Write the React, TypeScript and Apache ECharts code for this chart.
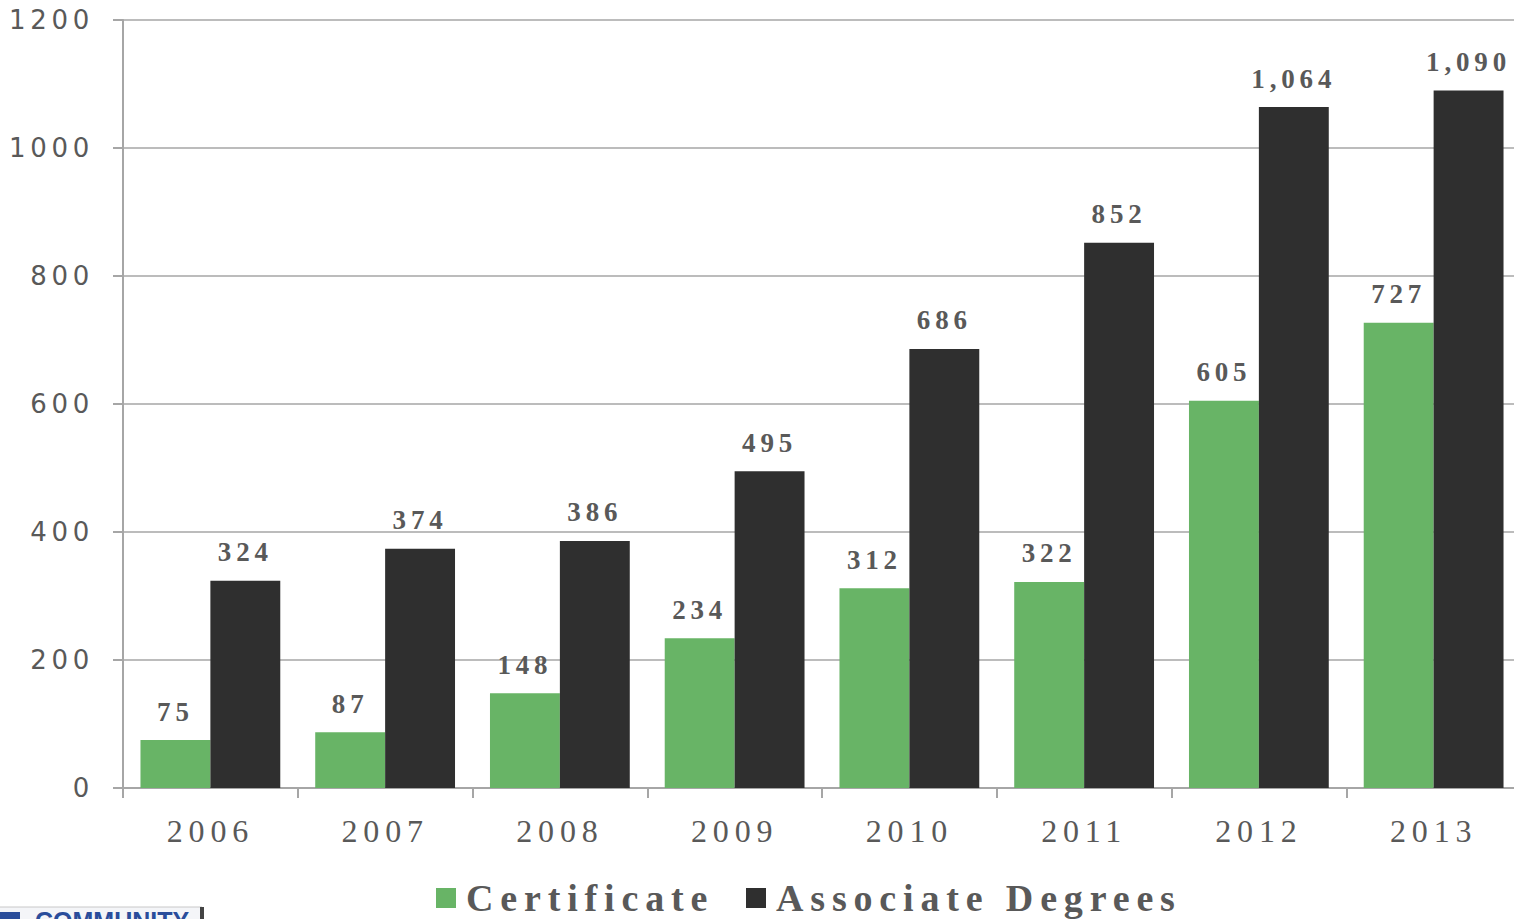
import React, { useEffect, useRef } from "react";
import * as echarts from "echarts";

const years = ["2006", "2007", "2008", "2009", "2010", "2011", "2012", "2013"];
const certificate = [75, 87, 148, 234, 312, 322, 605, 727];
const associate = [324, 374, 386, 495, 686, 852, 1064, 1090];
const yTicks = { min: 0, max: 1200, interval: 200 };

const fmt = (v: number) => v.toLocaleString("en-US");

export default function App() {
  const ref = useRef<HTMLDivElement>(null);
  useEffect(() => {
    document.body.style.margin = "0";
    const chart = echarts.init(ref.current!, undefined, { renderer: "svg" });
    const labelStyle = {
      show: true,
      position: "top" as const,
      distance: 15,
      color: "#595959",
      fontFamily: "Liberation Serif",
      fontWeight: "bold" as const,
      fontSize: 27,
      formatter: (p: any) => fmt(p.value),
    };
    chart.setOption({
      animation: false,
      backgroundColor: "#ffffff",
      grid: { left: 123, right: 0, top: 20, bottom: 131, containLabel: false },
      xAxis: {
        type: "category",
        data: years,
        axisLine: { lineStyle: { color: "#A6A6A6", width: 2 } },
        axisTick: { show: true, length: 10, lineStyle: { color: "#A6A6A6", width: 2 } },
        axisLabel: {
          color: "#595959",
          fontFamily: "Liberation Serif",
          fontSize: 32,
          margin: 27,
        },
      },
      yAxis: {
        type: "value",
        min: yTicks.min,
        max: yTicks.max,
        interval: yTicks.interval,
        axisLine: { show: true, lineStyle: { color: "#A6A6A6", width: 2 } },
        axisTick: { show: true, length: 10, lineStyle: { color: "#A6A6A6", width: 2 } },
        splitLine: { show: true, lineStyle: { color: "#A6A6A6", width: 1.5 } },
        axisLabel: {
          color: "#595959",
          fontFamily: "DejaVu Sans",
          fontSize: 26,
          margin: 29,
          formatter: (v: number) => String(v),
        },
      },
      legend: {
        left: 431,
        top: 874,
        itemWidth: 20,
        itemHeight: 20,
        itemGap: 107,
        icon: "rect",
        textStyle: {
          color: "#595959",
          fontFamily: "Liberation Serif",
          fontWeight: "bold",
          fontSize: 38,
          padding: [0, 0, 0, 5],
        },
        data: ["Certificate", "Associate Degrees"],
      },
      series: [
        {
          name: "Certificate",
          type: "bar",
          data: certificate,
          barGap: "0%",
          barCategoryGap: "20%",
          itemStyle: { color: "#68B466" },
          label: labelStyle,
        },
        {
          name: "Associate Degrees",
          type: "bar",
          data: associate,
          barGap: "0%",
          barCategoryGap: "20%",
          itemStyle: { color: "#2F2F2F" },
          label: labelStyle,
        },
      ],
      graphic: [
        {
          type: "rect",
          shape: { x: -2, y: 907, width: 204, height: 30 },
          style: { fill: "#f4f5f8", stroke: "#c8c8c8", lineWidth: 1 },
        },
        {
          type: "rect",
          shape: { x: 200, y: 907, width: 4, height: 14 },
          style: { fill: "#444444" },
        },
        {
          type: "rect",
          shape: { x: 0, y: 912, width: 20, height: 10 },
          style: { fill: "#2a4d9b" },
        },
        {
          type: "text",
          x: 35,
          y: 908,
          style: {
            text: "COMMUNITY",
            fill: "#2a4d9b",
            font: "bold 25px Liberation Sans",
          },
        },
      ],
    });
    return () => chart.dispose();
  }, []);
  return (
    <div id="chartbox" style={{ position: "absolute", left: 0, top: 0, width: 1514, height: 919, overflow: "hidden" }}>
      <style>{`#chartbox svg text { letter-spacing: 0.18em; } #chartbox svg text[style*="Liberation Sans"] { letter-spacing: 0; }`}</style>
      <div ref={ref} style={{ position: "absolute", left: 0, top: 0, width: 1521, height: 919 }} />
    </div>
  );
}
